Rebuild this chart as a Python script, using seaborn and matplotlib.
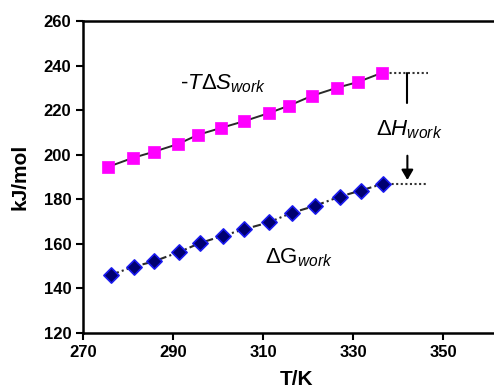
import matplotlib
matplotlib.use("Agg")
import matplotlib.pyplot as plt
import seaborn as sns
import pandas as pd

T_s = [275.5, 281.1, 285.7, 291.1, 295.5, 300.6, 305.7, 311.3, 315.7, 320.8, 326.3, 331.0, 336.3]
TdS = [194.5, 198.6, 201.3, 204.8, 208.9, 212.0, 215.0, 218.7, 222.0, 226.4, 230.0, 232.6, 236.7]
T_g = [276.2, 281.3, 285.7, 291.3, 295.9, 301.0, 305.7, 311.2, 316.3, 321.4, 327.0, 331.6, 336.5]
dG = [146.1, 149.8, 152.1, 156.3, 160.3, 163.6, 166.5, 169.6, 173.9, 177.0, 181.2, 183.9, 186.9]
x_ticks = [270, 290, 310, 330, 350]
y_ticks = [120, 140, 160, 180, 200, 220, 240, 260]

sns.set_style("ticks")
plt.rcParams["font.family"] = ["Liberation Sans", "DejaVu Sans"]
plt.rcParams["mathtext.fontset"] = "custom"
plt.rcParams["mathtext.rm"] = "Liberation Sans"
plt.rcParams["mathtext.it"] = "Liberation Sans:italic"
plt.rcParams["mathtext.bf"] = "Liberation Sans:bold"
plt.rcParams["text.color"] = "black"
plt.rcParams["axes.labelcolor"] = "black"
plt.rcParams["xtick.color"] = "black"
plt.rcParams["ytick.color"] = "black"

fig = plt.figure(figsize=(4.94, 3.90), dpi=100)
ax = fig.add_axes([83/494, 57/390, 428/494, 312/390])

df_s = pd.DataFrame({"T": T_s, "v": TdS})
df_g = pd.DataFrame({"T": T_g, "v": dG})

sns.lineplot(data=df_s, x="T", y="v", ax=ax, color="#2a2a2a", linewidth=1.4, zorder=2)
sns.lineplot(data=df_g, x="T", y="v", ax=ax, color="#2a2a2a", linewidth=1.5,
             linestyle=(0, (4, 1.5, 1, 1.5)), zorder=2)
sns.scatterplot(data=df_s, x="T", y="v", ax=ax, marker="s", s=75, color="#FF00FF",
                edgecolor="#FF00FF", linewidth=0.5, zorder=3)
sns.scatterplot(data=df_g, x="T", y="v", ax=ax, marker="D", s=60, color="#000070",
                edgecolor="#1A1AF0", linewidth=1.2, zorder=3)

# dotted reference lines and delta H arrow
ax.plot([337.0, 346.5], [TdS[-1], TdS[-1]], color="#333333", linestyle=(0, (1, 1.2)), linewidth=1.5)
ax.plot([337.5, 346.5], [dG[-1], dG[-1]], color="#333333", linestyle=(0, (1, 1.2)), linewidth=1.5)
ax.plot([342, 342], [TdS[-1], 223.2], color="black", linewidth=1.5)
ax.annotate("", xy=(342, 187.4), xytext=(342, 200.8),
            arrowprops=dict(arrowstyle="-|>,head_width=0.35,head_length=0.6", color="black", lw=1.5))

ax.text(301, 231.7, r"-$T\Delta S_{work}$", fontsize=16, ha="center", va="center", color="black")
ax.text(342.5, 211, r"$\Delta H_{work}$", fontsize=16, ha="center", va="center", color="black")
ax.text(318, 153.7, r"$\Delta \mathrm{G}_{work}$", fontsize=16, ha="center", va="center", color="black")

ax.set_xlim(270, 365)
ax.set_ylim(120, 260)
ax.set_xticks(x_ticks)
ax.set_yticks(y_ticks)
ax.set_xlabel("T/K", fontsize=15, fontweight="bold", labelpad=7)
ax.set_ylabel("kJ/mol", fontsize=15, fontweight="bold", labelpad=10)
ax.tick_params(axis="both", labelsize=12, width=1.5, length=5, direction="out", colors="black")
for lab in ax.get_xticklabels() + ax.get_yticklabels():
    lab.set_fontweight("bold")
for side in ["left", "bottom", "top"]:
    ax.spines[side].set_visible(True)
    ax.spines[side].set_linewidth(1.8)
    ax.spines[side].set_color("black")
ax.spines["right"].set_visible(False)

fig.savefig("out.png", dpi=100)
